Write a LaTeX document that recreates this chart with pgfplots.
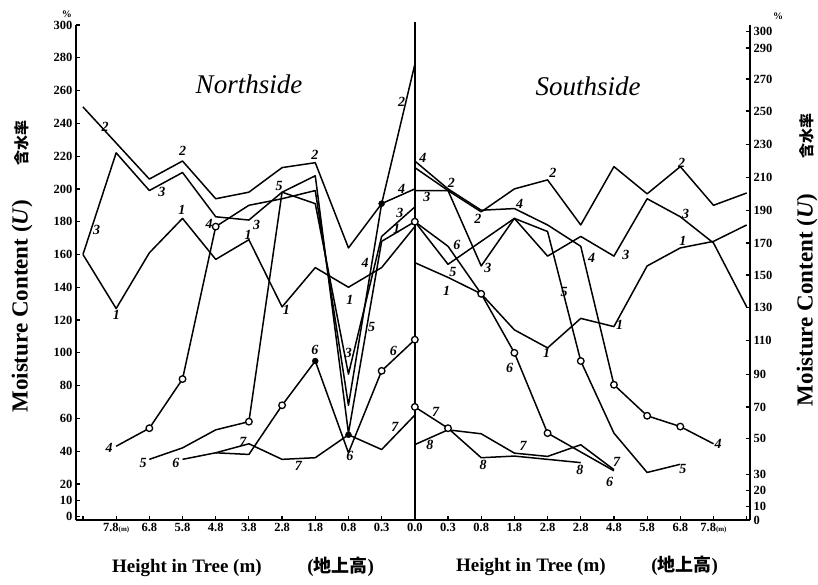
\documentclass[border=0pt]{standalone}
\usepackage{fontspec}
\setmainfont{Liberation Serif}
\newfontfamily\cjk{Noto Sans CJK JP}
\usepackage{pgfplots}
\pgfplotsset{compat=1.18}
\tikzset{lbl/.style={font=\bfseries\itshape\fontsize{14}{14}\selectfont, inner sep=0pt},
  ser/.style={black, solid, mark=none, line width=1.5pt, line join=round}}
\begin{document}
\begin{tikzpicture}[x=1pt,y=1pt]
\useasboundingbox (-76,-64) rectangle (742,520);
\begin{axis}[
  at={(0,0)}, anchor=south west,
  scale only axis, width=674pt, height=495pt,
  xmin=-1.21, xmax=19.1, ymin=-2, ymax=300,
  axis x line=bottom, axis y line=left,
  axis line style={-, line width=2pt},
  xtick={-1,...,19},
  xticklabels={{},{7.8{\scriptsize(m)}},6.8,5.8,4.8,3.8,2.8,1.8,0.8,0.3,0.0,0.3,0.8,1.8,2.8,2.8,4.8,5.8,6.8,{7.8{\scriptsize(m)}},{}},
  ytick={0,10,20,40,60,80,100,120,140,160,180,200,220,240,260,280,300},
  tick align=inside, major tick length=4pt,
  tick style={line width=1.2pt, black},
  ticklabel style={font=\bfseries\fontsize{12.5}{12.5}\selectfont},
  /pgf/number format/assume math mode=true,
  clip=false,
]
% Northside
\addplot[ser] coordinates {(-1,160)(0,127)(1,161)(2,182)(3,157)(4,169)(5,128)(6,152)(7,140)(8,152)(9,177)};
\addplot[ser] coordinates {(-1,250)(1,206)(2,217)(3,194)(4,198)(5,213)(6,216)(7,164)(8,191)(9,276)};
\addplot[ser] coordinates {(-1,160)(0,222)(1,199)(2,210)(3,183)(4,181)(5,198)(6,191)(7,87)(8,171)(9,189)};
\addplot[ser] coordinates {(0,43)(1,54)(2,84)(3,177)(4,190)(5,194)(6,199)(7,68)(8,191)(9,200)};
\addplot[ser] coordinates {(1,35)(2,42)(3,53)(4,58)(5,198)(6,208)(7,51)(8,168)(9,180)};
\addplot[ser] coordinates {(2,35)(3,39)(4,38)(5,68)(6,95)(7,39)(8,89)(9,108)};
\addplot[ser] coordinates {(3,39)(4,44.5)(5,35)(6,36)(7,50)(8,41)(9,62)};
% Southside
\addplot[ser] coordinates {(9,155)(10,146)(11,136)(12,114)(13,103)(14,121)(15,116)(16,153)(17,164)(18,168)(19,178)};
\addplot[ser] coordinates {(9,213)(10,199)(11,186)(12,200)(13,205.5)(14,178)(15,213.6)(16,197)(17,213.6)(18,190)(19,197.5)};
\addplot[ser] coordinates {(9,199)(10,199)(11,153)(12,182)(13,159)(14,171)(15,159)(16,194)(17,183)(18,167)(19,128)};
\addplot[ser] coordinates {(9,217)(10,200)(11,187)(12,188)(13,178)(14,165)(15,80.5)(16,61.6)(17,55)(18,44.5)};
\addplot[ser] coordinates {(9,180)(10,154)(12,182)(13,174)(14,95)(15,51)(16,27)(17,32)};
\addplot[ser] coordinates {(9,180)(10,165)(11,136)(12,100)(13,51)(15,28)};
\addplot[ser] coordinates {(9,67)(10,54)(11,36)(12,37)(13,35)(14,33)};
\addplot[ser] coordinates {(9,44)(10,53)(11,50.6)(12,38.8)(13,36.8)(14,43.9)(15,28.7)};
% open circle marks
\addplot[only marks, mark=*, mark size=3.3pt, mark options={fill=white, draw=black, line width=1.3pt}] coordinates {
(1,54)(2,84)(3,177)(4,58)(5,68)(8,89)(9,108)
(9,180)(11,136)(12,100)(13,51)(15,80.5)(16,61.6)(17,55)(14,95)(9,67)(10,54)};
% filled dots
\addplot[only marks, mark=*, mark size=3pt, mark options={fill=black, draw=black}] coordinates {(6,95)(8,191)(7,50)};
\draw[line width=2pt] (axis cs:9,-2) -- (axis cs:9,302);
% series numbers, Northside
\node[lbl] at (axis cs:-0.33,238) {2};
\node[lbl] at (axis cs:-0.59,175) {3};
\node[lbl] at (axis cs:2.0,223) {2};
\node[lbl] at (axis cs:1.38,198) {3};
\node[lbl] at (axis cs:1.98,187) {1};
\node[lbl] at (axis cs:2.8,178.5) {4};
\node[lbl] at (axis cs:4.23,178) {3};
\node[lbl] at (axis cs:3.98,172) {1};
\node[lbl] at (axis cs:4.91,202) {5};
\node[lbl] at (axis cs:5.99,221) {2};
\node[lbl] at (axis cs:0.01,123) {1};
\node[lbl] at (axis cs:5.13,126) {1};
\node[lbl] at (axis cs:7.04,132) {1};
\node[lbl] at (axis cs:7.5,155) {4};
\node[lbl] at (axis cs:8.6,253) {2};
\node[lbl] at (axis cs:8.6,200) {4};
\node[lbl] at (axis cs:8.55,185.5) {3};
\node[lbl] at (axis cs:8.45,175.5) {1};
\node[lbl] at (axis cs:7.0,100) {3};
\node[lbl] at (axis cs:7.7,116) {5};
\node[lbl] at (axis cs:5.99,102) {6};
\node[lbl] at (axis cs:7.04,36.8) {6};
\node[lbl] at (axis cs:8.35,101) {6};
\node[lbl] at (axis cs:8.4,55) {7};
\node[lbl] at (axis cs:5.49,30.7) {7};
\node[lbl] at (axis cs:3.82,45.7) {7};
\node[lbl] at (axis cs:-0.21,42) {4};
\node[lbl] at (axis cs:0.81,33) {5};
\node[lbl] at (axis cs:1.8,33) {6};
% Southside
\node[lbl] at (axis cs:9.24,219) {4};
\node[lbl] at (axis cs:9.36,195) {3};
\node[lbl] at (axis cs:10.1,203.5) {2};
\node[lbl] at (axis cs:10.9,182) {2};
\node[lbl] at (axis cs:12.16,191) {4};
\node[lbl] at (axis cs:13.16,210) {2};
\node[lbl] at (axis cs:10.27,166) {6};
\node[lbl] at (axis cs:10.15,149.6) {5};
\node[lbl] at (axis cs:11.2,152) {3};
\node[lbl] at (axis cs:9.96,138) {1};
\node[lbl] at (axis cs:13.5,137) {5};
\node[lbl] at (axis cs:14.33,158) {4};
\node[lbl] at (axis cs:15.36,160) {3};
\node[lbl] at (axis cs:17.16,185) {3};
\node[lbl] at (axis cs:17.04,216) {2};
\node[lbl] at (axis cs:17.08,168) {1};
\node[lbl] at (axis cs:15.17,117) {1};
\node[lbl] at (axis cs:12.97,100) {1};
\node[lbl] at (axis cs:11.86,90.7) {6};
\node[lbl] at (axis cs:9.63,64) {7};
\node[lbl] at (axis cs:9.45,44) {8};
\node[lbl] at (axis cs:12.26,43) {7};
\node[lbl] at (axis cs:11.06,31.7) {8};
\node[lbl] at (axis cs:13.97,28.7) {8};
\node[lbl] at (axis cs:15.08,33.5) {7};
\node[lbl] at (axis cs:14.87,21) {6};
\node[lbl] at (axis cs:17.08,29) {5};
\node[lbl] at (axis cs:18.14,44.5) {4};
\end{axis}
\begin{axis}[
  at={(0,0)}, anchor=south west,
  scale only axis, width=674pt, height=495pt,
  xmin=-1.21, xmax=19.1, ymin=-2, ymax=300,
  axis x line=none, axis y line=right,
  axis line style={-, line width=2pt},
  ytick={-2,6,16,26,47.5,67,87,107.5,127.5,147.5,167,187,207,227,247.5,267,286,296},
  yticklabels={0,10,20,30,50,70,90,110,130,150,170,190,210,230,250,270,290,300},
  tick align=inside, major tick length=4pt,
  tick style={line width=1.2pt, black},
  ticklabel style={font=\bfseries\fontsize{12.5}{12.5}\selectfont},
]
\end{axis}
\node[font=\bfseries\fontsize{10}{10}\selectfont] at (-9,506) {\%};
\node[font=\bfseries\fontsize{10}{10}\selectfont] at (702,504) {\%};
\node[font=\itshape\fontsize{27}{27}\selectfont] at (173,436) {Northside};
\node[font=\itshape\fontsize{27}{27}\selectfont] at (512,434) {Southside};
\node[font=\bfseries\fontsize{19}{19}\selectfont] at (167,-46.7) {Height in Tree (m)\hspace{2.4em}({\cjk\fontsize{18}{18}\selectfont 地上高})};
\node[font=\bfseries\fontsize{19}{19}\selectfont] at (511,-46) {Height in Tree (m)\hspace{2.4em}({\cjk\fontsize{18}{18}\selectfont 地上高})};
\node[rotate=90, font=\bfseries\fontsize{23}{23}\selectfont] at (-54,253.5) {Moisture Content (\textit{U})\hspace{1.5em}{\cjk\fontsize{15}{15}\selectfont 含水率}};
\node[rotate=90, font=\bfseries\fontsize{23}{23}\selectfont] at (731,260) {Moisture Content (\textit{U})\hspace{1.5em}{\cjk\fontsize{15}{15}\selectfont 含水率}};
\end{tikzpicture}
\end{document}
